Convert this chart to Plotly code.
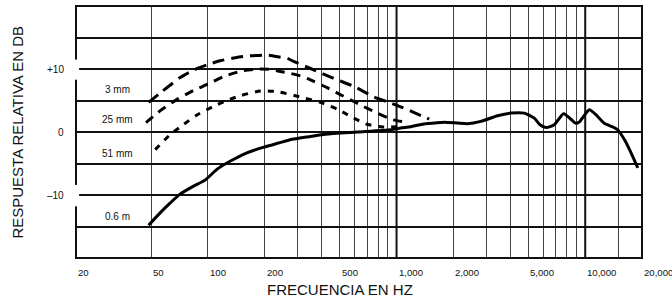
import math
import plotly.graph_objects as go

# ---------------- data ----------------
freq_06m = [48.5, 56, 63, 71, 84, 97, 112, 131, 161, 198, 237, 280, 350, 420,
            620, 931, 1052, 1190, 1397, 1714, 1786, 2100, 2377, 2797, 3430, 4040, 4750,
            5370, 5760, 6200, 6860, 7690, 8900, 9300, 10520, 11400, 12620, 14000, 14860,
            16130, 17500, 19000]
db_06m = [-14.8, -12.8, -11.3, -9.9, -8.6, -7.6, -5.9, -4.65, -3.3, -2.4, -1.75, -1.15,
          -0.7, -0.35, 0.0, 0.36, 0.63, 0.85, 1.27, 1.5, 1.55, 1.42, 1.31, 1.68, 2.58,
          3.0, 3.0, 2.2, 1.15, 0.7, 1.15, 2.9, 1.4, 1.6, 3.55, 2.74, 1.4, 0.8, 0.36,
          -1.2, -3.3, -5.7]

freq_3mm = [48.5, 57, 71, 85, 100, 116, 140, 161, 206, 240, 263, 285, 355, 474, 598, 755,
            1013, 1375, 1490]
db_3mm = [4.7, 6.4, 8.6, 9.9, 10.7, 11.3, 11.8, 12.05, 12.2, 11.9, 11.7, 11.2, 10.0, 8.4,
          7.2, 5.6, 4.2, 2.5, 2.05]

freq_25mm = [47, 56, 68, 84, 100, 121, 152, 186, 210, 242, 274, 310, 336, 431, 492, 644,
             783, 953, 1158]
db_25mm = [1.5, 3.4, 5.1, 6.6, 7.6, 8.8, 9.7, 10.0, 9.95, 9.6, 9.3, 8.9, 8.5, 7.0, 6.1,
           4.3, 3.05, 1.95, 1.5]

freq_51mm = [52.6, 63, 74, 87.5, 107, 126, 150, 190, 233, 305, 395, 487, 577, 685, 843, 1050]
db_51mm = [-2.8, -0.45, 1.15, 2.7, 4.05, 5.0, 5.8, 6.5, 6.4, 5.6, 4.7, 3.6, 2.4, 1.3, 0.8, 0.85]

grid_freqs = [50, 100, 200, 300, 400, 500, 600, 700, 800, 900, 1000, 2000, 3000, 4000,
              5000, 6000, 7000, 8000, 9000, 10000, 15000]
major_freqs = [1000, 10000]
grid_db = [-15, -10, -5, 0, 5, 10, 15]

xtick_vals = [20, 50, 100, 200, 500, 1000, 2000, 5000, 10000, 20000]
xtick_text = ["20", "50", "100", "200", "500", "1,000", "2,000", "5,000", "10,000", "20,000"]
ytick_vals = [10, 0, -10]
ytick_text = ["+10", "0", "\u201310"]

series_labels = ["3 mm", "25 mm", "51 mm", "0.6 m"]
series_label_db = [6.7, 1.95, -3.4, -13.4]

X_RANGE = [20, 20000]
Y_RANGE = [-20, 20]

FONT = "Liberation Sans, Arial, Helvetica, sans-serif"

# ---------------- figure ----------------
fig = go.Figure()

# thicker major vertical lines
for f in major_freqs:
    fig.add_trace(go.Scatter(x=[f, f], y=Y_RANGE, mode="lines",
                             line=dict(color="#111", width=2), hoverinfo="skip",
                             showlegend=False))

def curve(xs, ys, dash):
    fig.add_trace(go.Scatter(x=xs, y=ys, mode="lines",
                             line=dict(color="black", width=3, dash=dash,
                                       shape="spline", smoothing=0.6),
                             showlegend=False))

curve(freq_3mm, db_3mm, "12px,7px")
curve(freq_25mm, db_25mm, "9px,7px")
curve(freq_51mm, db_51mm, "6px,7px")
curve(freq_06m, db_06m, "solid")

annotations = []
for v, t in zip(xtick_vals, xtick_text):
    annotations.append(dict(x=math.log10(v), y=0, xref="x", yref="paper",
                            text=t, showarrow=False, xanchor="left", yanchor="middle",
                            yshift=-14, font=dict(family=FONT, size=9.6, color="#111")))
for v, t in zip(ytick_vals, ytick_text):
    annotations.append(dict(x=-0.017, y=v, xref="paper", yref="y", text=t,
                            showarrow=False, xanchor="right", yanchor="middle",
                            font=dict(family=FONT, size=10, color="#111")))
for v, t in zip(series_label_db, series_labels):
    annotations.append(dict(x=0.0733, y=v, xref="paper", yref="y", text=t,
                            showarrow=False, xanchor="center", yanchor="middle",
                            font=dict(family=FONT, size=10, color="#111")))
annotations.append(dict(x=0.467, y=0, xref="paper", yref="paper",
                        text="FRECUENCIA EN HZ", showarrow=False,
                        xanchor="center", yanchor="middle", yshift=-31,
                        font=dict(family=FONT, size=15, color="#111")))
annotations.append(dict(x=-0.105, y=0.5, xref="paper", yref="paper",
                        text="RESPUESTA RELATIVA EN DB", showarrow=False,
                        textangle=-90, xanchor="center", yanchor="middle",
                        font=dict(family=FONT, size=15, color="#111")))

shapes = [
    dict(type="rect", xref="paper", yref="paper", x0=0, x1=1, y0=0, y1=1,
         line=dict(color="#111", width=2), layer="above"),
    dict(type="rect", xref="paper", yref="y", x0=-0.012, x1=0.0055, y0=8.3, y1=11.5,
         line=dict(width=0), fillcolor="white", layer="above"),
    dict(type="rect", xref="paper", yref="y", x0=-0.012, x1=0.0055, y0=-11.8, y1=-8.4,
         line=dict(width=0), fillcolor="white", layer="above"),
]

fig.update_layout(
    width=672, height=299,
    margin=dict(l=76, r=30, t=6, b=41),
    paper_bgcolor="white", plot_bgcolor="white",
    showlegend=False,
    annotations=annotations,
    shapes=shapes,
    xaxis=dict(type="log", range=[math.log10(X_RANGE[0]), math.log10(X_RANGE[1])],
               tickvals=grid_freqs, showticklabels=False, ticks="",
               showgrid=True, gridcolor="#444", gridwidth=1.3,
               zeroline=False, showline=False, fixedrange=True),
    yaxis=dict(range=Y_RANGE, tickvals=grid_db, showticklabels=False, ticks="",
               showgrid=True, gridcolor="#111", gridwidth=2,
               zeroline=False, showline=False, fixedrange=True),
)

fig.write_html("out.html", config={"displayModeBar": False},
               post_script="document.body.style.margin='0';document.body.style.overflow='hidden';")
